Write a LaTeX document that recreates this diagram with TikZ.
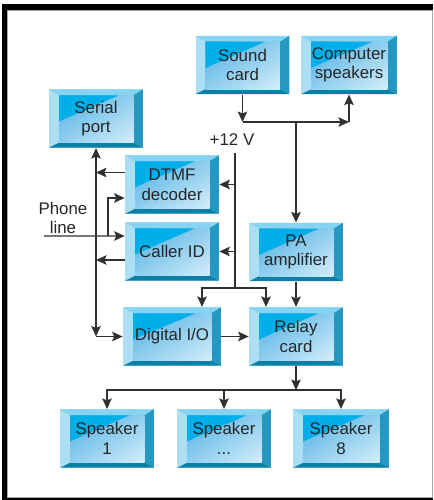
\documentclass[tikz,border=0pt]{standalone}
\usepackage{fontspec}
\setmainfont{Liberation Sans}
\usepackage{xcolor}
\definecolor{ink}{HTML}{262626}
\definecolor{wire}{HTML}{303030}
\definecolor{faceC}{HTML}{00AEEA}
\definecolor{faceA}{HTML}{4AAEE2}
\definecolor{faceM}{HTML}{90CEEF}
\definecolor{faceB}{HTML}{D4EEFA}
\definecolor{bevelT}{HTML}{86D3F2}
\definecolor{bevelL}{HTML}{ADDFF4}
\definecolor{bevelR}{HTML}{2598C2}
\definecolor{bevelB}{HTML}{0A80A9}
\usepackage{tikz}
\usetikzlibrary{arrows.meta, calc, positioning, shadings}

\tikzset{
  % bevelled button: pale left edge from the fill, the other three edges and the glassy face drawn inside
  panel/.style={minimum width=1.88cm, minimum height=1.17cm, inner sep=0pt, align=center,
    fill=bevelL, text=ink, font=\fontsize{9.6}{11.2}\selectfont,
    path picture={
      \coordinate (pSW) at (path picture bounding box.south west);
      \coordinate (pNE) at (path picture bounding box.north east);
      \coordinate (pNW) at (pSW |- pNE);
      \coordinate (pSE) at (pNE |- pSW);
      \coordinate (fSW) at ($(pSW)+(0.2cm,0.1cm)$);
      \coordinate (fNE) at ($(pNE)+(-0.19cm,-0.12cm)$);
      \coordinate (fNW) at (fSW |- fNE);
      \coordinate (fSE) at (fNE |- fSW);
      \fill[bevelT] (pNW) -- (pNE) -- (fNE) -- (fNW) -- cycle;
      \fill[bevelR] (pNE) -- (pSE) -- (fSE) -- (fNE) -- cycle;
      \fill[bevelB] (pSW) -- (pSE) -- (fSE) -- (fSW) -- cycle;
      \shade[upper left=faceA, upper right=faceM, lower left=faceM, lower right=faceB] (fSW) rectangle (fNE);
      \fill[faceC] (fNW) -- ($(fNW)!0.8!(fNE)$) -- ($(fNW)!0.55!(fSW)$) -- cycle;
    }},
  link/.style={draw=wire, line width=0.8pt},
  label/.style={text=ink, font=\fontsize{9.6}{11.2}\selectfont, align=center, inner sep=0pt}
}

\begin{document}
\begin{tikzpicture}[x=0.02cm, y=-0.02cm, >={Stealth[length=2.1mm, width=1.9mm, inset=0.4mm]}]

  \useasboundingbox (0,0) rectangle (433,500);

  % frame
  \fill[black] (2,4.5) rectangle (432.5,500);
  \filldraw[fill=white, draw=gray!70, line width=0.4pt] (7.5,10.5) rectangle (432.5,497);

  % audio side
  \node[panel] (sound) at (242.5,65) {Sound\\card};
  \node[panel, minimum width=1.92cm] (pc) at (349,65) {Computer\\speakers};
  \node[panel] (pa) at (296,252) {PA\\amplifier};
  \node[panel] (relay) at (296,336.5) {Relay\\card};

  % phone side
  \node[panel] (serial) at (96,118.5) {Serial\\port};
  \node[panel] (dtmf) at (172,184.5) {DTMF\\decoder};
  \node[panel] (callerid) at (172,251.5) {Caller ID};
  \node[panel, minimum width=1.96cm] (dio) at (172,336.5) {Digital I/O};

  % speakers
  \node[panel] (spk1) at (107,438.5) {Speaker\\1};
  \node[panel] (spk2) at (224,438.5) {Speaker\\...};
  \node[panel, minimum width=1.92cm] (spk8) at (341,438.5) {Speaker\\8};

  \node[label] (vcc) at (232,140) {+12 V};
  \node[label] (phone) at (63,218) {Phone\\line};

  % junctions
  \coordinate (busW) at (242.5,122);
  \coordinate (busE) at (349,122);
  \coordinate (busPA) at (296,122);
  \coordinate (vtop) at (235,153);
  \coordinate (vbot) at (235,288);
  \coordinate (spkbus) at (296,390);
  \coordinate (phin) at (44,236);
  \coordinate (phbr) at (108,236);
  \coordinate (sercorner) at (serial.south |- dio.west);

  % sound card to both speaker outputs
  \draw[link, ->] (sound) -- (busW);
  \draw[link, ->] (busW) -- (busE);
  \draw[link, ->] (busE) -- (pc);
  \draw[link, ->] (busPA) -- (pa);

  % +12 V rail
  \draw[link] (vtop) -- (vbot);
  \draw[link, ->] (vtop |- dtmf.east) -- (dtmf.east);
  \draw[link, ->] (vtop |- callerid.east) -- (callerid.east);
  \draw[link, ->] (vbot) -| ([xshift=0.6cm]dio.north);
  \draw[link, ->] (vbot) -| ([xshift=-0.6cm]relay.north);

  \draw[link, ->] (pa) -- (relay);
  \draw[link, ->] (dio) -- (relay);

  % relay card out to the speakers
  \draw[link, ->] (relay) -- (spkbus);
  \draw[link, ->] (spkbus) -| (spk1);
  \draw[link, ->] (spkbus) -| (spk2);
  \draw[link, ->] (spkbus) -| (spk8);

  % serial port bus
  \draw[link, <->] (serial) -- (sercorner);
  \draw[link, ->] (sercorner) -- (dio);
  \draw[link, ->] ([yshift=0.24cm]dtmf.west) -- ([yshift=0.24cm]dtmf.west -| serial.south);
  \draw[link, ->] ([yshift=-0.17cm]callerid.west) -- ([yshift=-0.17cm]callerid.west -| serial.south);

  % phone line in
  \draw[link, ->] (phin) -- ([yshift=0.31cm]callerid.west);
  \draw[link, ->] (phbr) |- ([yshift=-0.27cm]dtmf.west);

\end{tikzpicture}
\end{document}
